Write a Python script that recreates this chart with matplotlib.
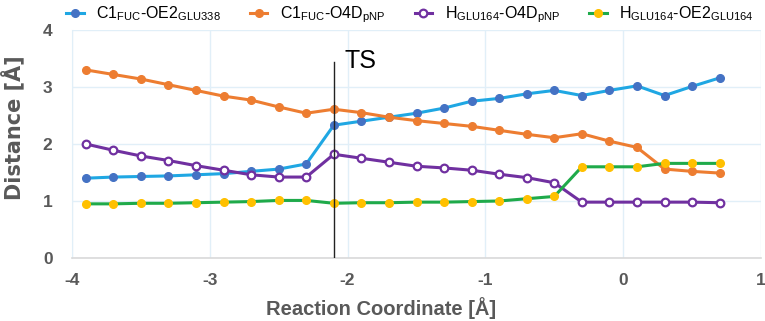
import matplotlib
matplotlib.use("Agg")
import matplotlib.pyplot as plt

plt.rcParams['font.family'] = ['Liberation Sans', 'DejaVu Sans']
plt.rcParams['mathtext.fontset'] = 'custom'
plt.rcParams['mathtext.rm'] = 'Liberation Sans'
plt.rcParams['mathtext.it'] = 'Liberation Sans:italic'
plt.rcParams['mathtext.bf'] = 'Liberation Sans:bold'
plt.rcParams['axes.unicode_minus'] = False

# reaction coordinate (A)
coord = [-3.9, -3.7, -3.5, -3.3, -3.1, -2.9, -2.7, -2.5, -2.3, -2.1, -1.9, -1.7,
         -1.5, -1.3, -1.1, -0.9, -0.7, -0.5, -0.3, -0.1, 0.1, 0.3, 0.5, 0.7]

c1_oe2 = [1.40, 1.42, 1.43, 1.44, 1.46, 1.48, 1.52, 1.56, 1.65, 2.33, 2.40, 2.47,
          2.54, 2.63, 2.75, 2.80, 2.88, 2.94, 2.85, 2.94, 3.02, 2.85, 3.01, 3.16]
c1_o4d = [3.30, 3.22, 3.14, 3.04, 2.94, 2.84, 2.77, 2.65, 2.54, 2.61, 2.55, 2.47,
          2.41, 2.36, 2.31, 2.24, 2.17, 2.11, 2.18, 2.05, 1.94, 1.56, 1.52, 1.49]
h_o4d = [2.00, 1.89, 1.79, 1.71, 1.62, 1.54, 1.46, 1.42, 1.42, 1.82, 1.75, 1.68,
         1.61, 1.58, 1.54, 1.47, 1.41, 1.32, 0.98, 0.98, 0.98, 0.98, 0.98, 0.97]
h_oe2 = [0.95, 0.95, 0.96, 0.96, 0.97, 0.98, 0.99, 1.01, 1.01, 0.96, 0.97, 0.97,
         0.98, 0.98, 0.99, 1.00, 1.04, 1.08, 1.60, 1.60, 1.60, 1.66, 1.66, 1.66]

ts_x = -2.1

labels = [r'C1$_{\mathrm{FUC}}$-OE2$_{\mathrm{GLU338}}$',
          r'C1$_{\mathrm{FUC}}$-O4D$_{\mathrm{pNP}}$',
          r'H$_{\mathrm{GLU164}}$-O4D$_{\mathrm{pNP}}$',
          r'H$_{\mathrm{GLU164}}$-OE2$_{\mathrm{GLU164}}$']

fig = plt.figure(figsize=(7.65, 3.21), dpi=100)
ax = fig.add_axes([72/765, 1-258/321, (761-72)/765, (258-30)/321])

gray = '#595959'
ax.plot(coord, c1_oe2, color='#1fa7e3', lw=2.2, marker='o', ms=5.5,
        mfc='#4472c4', mec='#4472c4', label=labels[0], zorder=3)
ax.plot(coord, c1_o4d, color='#ed7d31', lw=2.2, marker='o', ms=5.5,
        mfc='#ed7d31', mec='#ed7d31', label=labels[1], zorder=3)
ax.plot(coord, h_o4d, color='#7030a0', lw=2.2, marker='o', ms=5.5,
        mfc='white', mec='#7030a0', mew=1.6, label=labels[2], zorder=3)
ax.plot(coord, h_oe2, color='#1faa4a', lw=2.2, marker='o', ms=5.5,
        mfc='#ffc000', mec='#ffc000', label=labels[3], zorder=3)

ax.plot([ts_x, ts_x], [0, 3.43], color='#222222', lw=1.0, zorder=4)
ax.text(-2.02, 3.46, 'TS', fontsize=18, va='center', ha='left', color='black')

ax.set_xlim(-4, 1)
ax.set_ylim(0, 4)
ax.set_xticks([-4, -3, -2, -1, 0, 1])
ax.set_yticks([0, 1, 2, 3, 4])
ax.grid(True, color='#e1eff8', lw=1.0, zorder=0)
for s in ['top', 'right']:
    ax.spines[s].set_visible(False)
ax.spines['left'].set_color('#e1eff8')
ax.spines['bottom'].set_color('#d9d9d9')
ax.spines['bottom'].set_linewidth(1.2)
ax.tick_params(length=0, labelsize=12.5, labelcolor=gray)
ax.tick_params(axis='x', pad=11)
ax.tick_params(axis='y', pad=14)
for t in ax.get_xticklabels() + ax.get_yticklabels():
    t.set_fontweight('bold')

ax.set_xlabel('Reaction Coordinate [Å]', fontsize=14.5, fontweight='bold', color=gray)
ax.xaxis.set_label_coords((381-72)/689, -(308-258)/228)
ax.xaxis.label.set_va('center')
ax.set_ylabel('Distance [Å]', fontsize=15, fontweight='bold', color=gray,
              family=['DejaVu Sans'])
ax.yaxis.set_label_coords(-(72-12)/689, (258-128)/228)
ax.yaxis.label.set_va('center')

fig.legend(loc='center', bbox_to_anchor=(410/765, 1-15/321), ncol=4, frameon=False,
           fontsize=11.5, handlelength=1.1, handletextpad=0.8, columnspacing=1.8,
           labelcolor='black')

fig.savefig('out.png', dpi=100)
